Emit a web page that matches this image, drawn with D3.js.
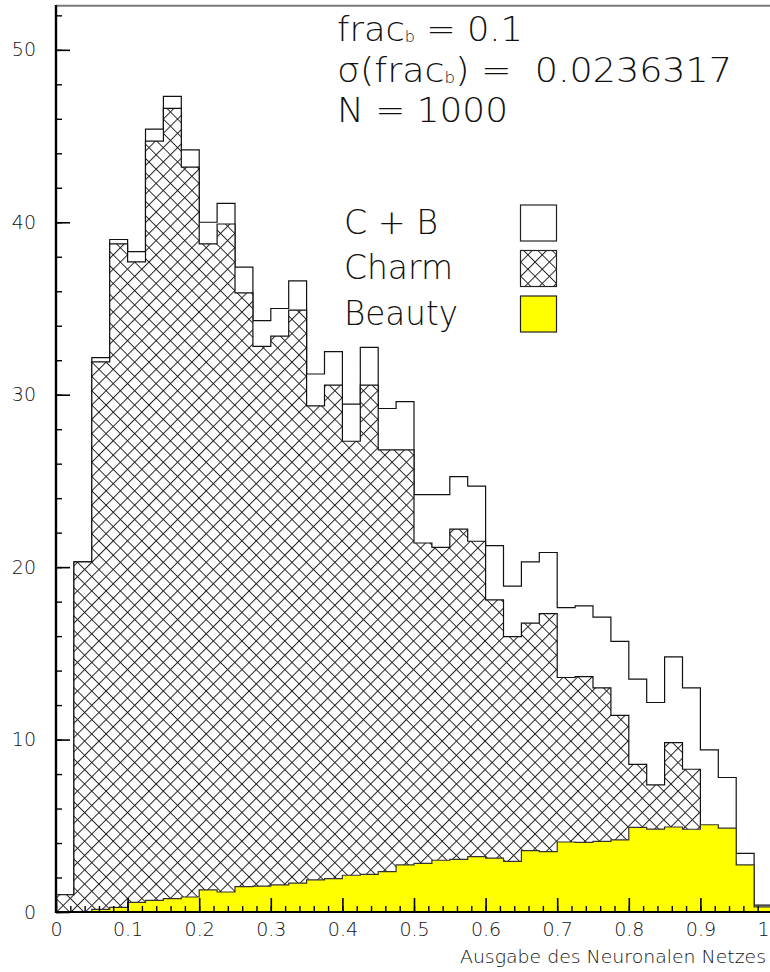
<!DOCTYPE html>
<html>
<head>
<meta charset="utf-8">
<script src="https://cdn.jsdelivr.net/npm/d3@7"></script>
<style>
  html, body { margin: 0; padding: 0; background: #fff; overflow: hidden; }
  svg { display: block; }
  text { font-family: "DejaVu Sans", "Liberation Sans", sans-serif; font-weight: 200; fill: #111; }
</style>
</head>
<body>
<div id="chart"></div>
<script>
// histogram bins: lower edge of each 0.025 bin
const binLow = [
  0.000, 0.025, 0.050, 0.075, 0.100, 0.125, 0.150, 0.175, 0.200, 0.225,
  0.250, 0.275, 0.300, 0.325, 0.350, 0.375, 0.400, 0.425, 0.450, 0.475,
  0.500, 0.525, 0.550, 0.575, 0.600, 0.625, 0.650, 0.675, 0.700, 0.725,
  0.750, 0.775, 0.800, 0.825, 0.850, 0.875, 0.900, 0.925, 0.950, 0.975
];
const binWidth = 0.025;

// C + B (white, outlined)
const totalCB = [
  1.0, 20.3, 32.15, 39.0, 38.3, 45.4, 47.3, 44.2, 40.0, 41.1,
  37.4, 34.3, 35.0, 36.6, 31.2, 32.5, 29.45, 32.75, 29.2, 29.6,
  24.2, 24.2, 25.25, 24.7, 21.25, 18.9, 20.3, 20.85, 17.65, 17.75,
  17.1, 15.7, 13.5, 12.15, 14.8, 13.0, 9.4, 7.8, 3.4, 0.4
];
// Charm (hatched)
const charm = [
  1.0, 20.3, 31.9, 38.75, 37.7, 44.7, 46.6, 43.2, 38.75, 39.9,
  35.9, 32.8, 33.4, 34.9, 29.35, 30.55, 27.3, 30.55, 26.8, 26.8,
  21.4, 21.15, 22.2, 21.5, 18.1, 15.97, 16.75, 17.3, 13.6, 13.65,
  13.0, 11.4, 8.56, 7.37, 9.82, 8.28, 4.34, 2.93, 0.67, 0.1
];
// Beauty (yellow)
const beauty = [
  0, 0, 0.15, 0.27, 0.56, 0.68, 0.77, 0.87, 1.28, 1.16,
  1.47, 1.5, 1.57, 1.68, 1.86, 1.93, 2.13, 2.18, 2.34, 2.73,
  2.82, 3.0, 3.05, 3.21, 3.13, 2.94, 3.56, 3.5, 4.06, 4.04,
  4.1, 4.18, 4.91, 4.81, 4.93, 4.8, 5.06, 4.87, 2.73, 0.3
];

const xTickValues = [0, 0.1, 0.2, 0.3, 0.4, 0.5, 0.6, 0.7, 0.8, 0.9, 1];
const xTickLabels = ['0', '0.1', '0.2', '0.3', '0.4', '0.5', '0.6', '0.7', '0.8', '0.9', '1'];
const yTickValues = [0, 10, 20, 30, 40, 50];
const yTickLabels = ['0', '10', '20', '30', '40', '50'];
const legendLabels = ['C + B', 'Charm', 'Beauty'];
const xTitle = 'Ausgabe des Neuronalen Netzes';

const W = 770, H = 972;
const plot = { left: 56, right: 772, top: 5, bottom: 912 };

const svg = d3.select('#chart').append('svg')
  .attr('width', W).attr('height', H)
  .attr('viewBox', [0, 0, W, H]);

const x = d3.scaleLinear().domain([0, 1]).range([plot.left, plot.right]);
const y = d3.scaleLinear().domain([0, 52.6]).range([plot.bottom, plot.top]);

/* --- cross-hatch pattern --- */
const defs = svg.append('defs');
const d = 14.3 / Math.SQRT2;
const pat = defs.append('pattern')
  .attr('id', 'xhatch')
  .attr('patternUnits', 'userSpaceOnUse')
  .attr('width', d).attr('height', d)
  .attr('patternTransform', `translate(${plot.left},${plot.bottom}) rotate(45)`);
pat.append('rect').attr('width', d).attr('height', d).attr('fill', '#fff');
pat.append('path')
  .attr('d', `M0,0.5H${d}M0.5,0V${d}`)
  .attr('stroke', '#222').attr('stroke-width', 1).attr('fill', 'none');

/* --- step histogram helper --- */
function stepPoints(values) {
  const pts = [[binLow[0], 0]];
  values.forEach((v, i) => {
    pts.push([binLow[i], v]);
    pts.push([binLow[i] + binWidth, v]);
  });
  pts.push([binLow[binLow.length - 1] + binWidth, 0]);
  return pts;
}
const stepLine = d3.line().x(p => x(p[0])).y(p => y(p[1]));

svg.append('path')
  .attr('d', stepLine(stepPoints(totalCB)) + 'Z')
  .attr('fill', '#fff').attr('stroke', '#111').attr('stroke-width', 1.2);

svg.append('path')
  .attr('d', stepLine(stepPoints(charm)) + 'Z')
  .attr('fill', 'url(#xhatch)').attr('stroke', '#111').attr('stroke-width', 1.2);

svg.append('path')
  .attr('d', stepLine(stepPoints(beauty)) + 'Z')
  .attr('fill', '#ffff00').attr('stroke', '#333').attr('stroke-width', 1.2);

/* --- frame top line --- */
svg.append('line')
  .attr('x1', plot.left).attr('x2', W + 5)
  .attr('y1', plot.top + 0.7).attr('y2', plot.top + 0.7)
  .attr('stroke', '#7a7a7a').attr('stroke-width', 2);

/* --- axes --- */
const minorY = d3.range(0, 53, 2);
const minorX = d3.range(0, 1.001, 0.02);

svg.append('g')
  .attr('transform', `translate(${plot.left},0)`)
  .call(d3.axisLeft(y).tickValues(minorY).tickSize(-6).tickFormat(''))
  .call(g => g.select('.domain').remove())
  .call(g => g.selectAll('line').attr('stroke', '#000').attr('stroke-width', 1.4));

svg.append('g')
  .attr('transform', `translate(${plot.left},0)`)
  .call(d3.axisLeft(y).tickValues(yTickValues).tickSize(-14).tickPadding(20)
    .tickFormat((v, i) => yTickLabels[i]))
  .call(g => g.select('.domain').remove())
  .call(g => g.selectAll('line').attr('stroke', '#000').attr('stroke-width', 1.6))
  .call(g => g.selectAll('text').attr('font-size', 19).attr('fill', '#111')
    .attr('font-family', null));

svg.append('g')
  .attr('transform', `translate(0,${plot.bottom})`)
  .call(d3.axisBottom(x).tickValues(minorX).tickSize(-6).tickFormat(''))
  .call(g => g.select('.domain').remove())
  .call(g => g.selectAll('line').attr('stroke', '#000').attr('stroke-width', 1.4));

svg.append('g')
  .attr('transform', `translate(0,${plot.bottom})`)
  .call(d3.axisBottom(x).tickValues(xTickValues).tickSize(-14).tickPadding(11)
    .tickFormat((v, i) => xTickLabels[i]))
  .call(g => g.select('.domain').remove())
  .call(g => g.selectAll('line').attr('stroke', '#000').attr('stroke-width', 1.6))
  .call(g => g.selectAll('text').attr('font-size', 19).attr('fill', '#111')
    .attr('font-family', null))
  // last label sits on the window edge: keep it inside
  .call(g => g.selectAll('text').filter(v => v === 1)
    .attr('text-anchor', 'end').attr('x', -3));

// axis lines
svg.append('line')
  .attr('x1', plot.left).attr('x2', plot.left)
  .attr('y1', plot.top).attr('y2', plot.bottom + 1)
  .attr('stroke', '#000').attr('stroke-width', 2.4);
svg.append('line')
  .attr('x1', plot.left).attr('x2', W + 5)
  .attr('y1', plot.bottom).attr('y2', plot.bottom)
  .attr('stroke', '#000').attr('stroke-width', 2);

svg.append('text')
  .attr('x', 766).attr('y', 963)
  .attr('text-anchor', 'end')
  .attr('font-size', 17)
  .attr('textLength', 306).attr('lengthAdjust', 'spacingAndGlyphs')
  .text(xTitle);

/* --- fit result text --- */
const info = svg.append('g').attr('font-size', 33);

const t1 = info.append('text').attr('x', 337).attr('y', 41)
  .attr('textLength', 186).attr('lengthAdjust', 'spacingAndGlyphs');
t1.append('tspan').text('frac');
t1.append('tspan').attr('font-size', 15).attr('dy', 1).text('b');
t1.append('tspan').attr('dy', -1).text(' = 0.1');

const t2 = info.append('text').attr('x', 337).attr('y', 81.5)
  .attr('textLength', 395).attr('lengthAdjust', 'spacingAndGlyphs');
t2.append('tspan').text('σ(frac');
t2.append('tspan').attr('font-size', 15).attr('dy', 1).text('b');
t2.append('tspan').attr('dy', -1).text(')\u00a0=\u00a0\u00a00.0236317');

info.append('text').attr('x', 337).attr('y', 122)
  .attr('textLength', 171).attr('lengthAdjust', 'spacingAndGlyphs')
  .text('N\u00a0=\u00a01000');

/* --- legend --- */
const legendFill = ['#fff', 'url(#xhatch)', '#ffff00'];
const legendTextW = [94, 109, 114];
const leg = svg.append('g');
legendLabels.forEach((lab, i) => {
  const cy = 223 + i * 45.5;
  leg.append('text')
    .attr('x', 344).attr('y', cy + 10.5)
    .attr('font-size', 33)
    .attr('textLength', legendTextW[i]).attr('lengthAdjust', 'spacingAndGlyphs')
    .text(lab);
  leg.append('rect')
    .attr('x', 520.5).attr('y', cy - 18)
    .attr('width', 36).attr('height', 36)
    .attr('fill', legendFill[i])
    .attr('stroke', '#222').attr('stroke-width', 1.2);
});
</script>
</body>
</html>
